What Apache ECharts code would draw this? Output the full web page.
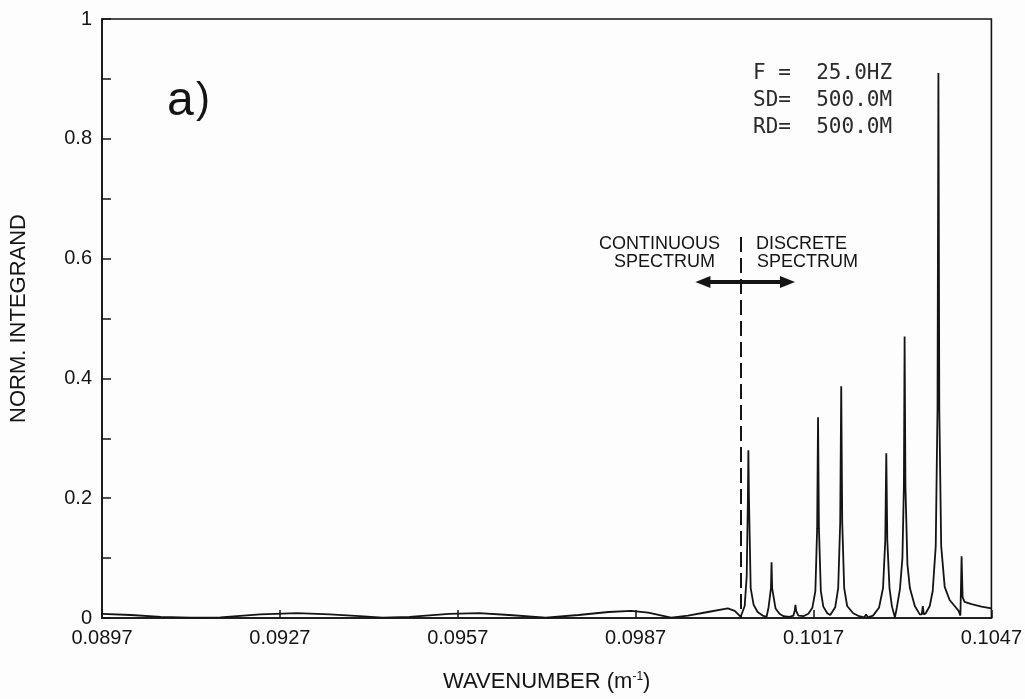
<!DOCTYPE html>
<html>
<head>
<meta charset="utf-8">
<title>Normalized integrand vs wavenumber</title>
<script src="https://cdn.jsdelivr.net/npm/echarts@6/dist/echarts.min.js"></script>
<style>
  html, body { margin: 0; padding: 0; background: #fdfdfd; }
  #c { width: 1025px; height: 699px; }
</style>
</head>
<body>
<div id="c"></div>
<script>
// Continuous-spectrum part of the integrand (wavenumber in 1/m, normalized value)
const continuousK = [
  0.089700, 0.090187, 0.090690, 0.091193, 0.091697, 0.092368, 0.092989, 0.093542,
  0.094046, 0.094432, 0.094885, 0.095556, 0.096059, 0.096563, 0.097183, 0.097737,
  0.098241, 0.098626, 0.098912, 0.099298, 0.099583, 0.099918, 0.100254, 0.100371,
  0.100472
];
const continuousVal = [
  0.007, 0.005, 0.002, 0.0005, 0.001, 0.006, 0.008, 0.006,
  0.003, 0.0005, 0.002, 0.007, 0.008, 0.005, 0.0005, 0.005,
  0.010, 0.012, 0.009, 0.0005, 0.004, 0.010, 0.016, 0.012,
  0.002
];

// Discrete-spectrum part: normal-mode peaks
const discreteK = [
  0.100489, 0.100539, 0.100573, 0.100593, 0.100601, 0.100611, 0.100640, 0.100690, 0.100757, 0.100841, 0.100908,
  0.100942, 0.100982, 0.100992, 0.101002, 0.101059, 0.101126, 0.101194, 0.101294,
  0.101361, 0.101383, 0.101395, 0.101407, 0.101445, 0.101529,
  0.101613, 0.101680, 0.101731, 0.101761, 0.101776, 0.101791, 0.101823, 0.101865, 0.101932, 0.101982,
  0.102066, 0.102116, 0.102150, 0.102167, 0.102184, 0.102217, 0.102267, 0.102368, 0.102469, 0.102553,
  0.102586, 0.102620,
  0.102704, 0.102804, 0.102872, 0.102910, 0.102927, 0.102944, 0.102981, 0.103023, 0.103073,
  0.103106, 0.103157, 0.103199, 0.103224, 0.103236, 0.103250, 0.103283, 0.103325, 0.103408, 0.103492, 0.103526,
  0.103543, 0.103559,
  0.103593, 0.103660, 0.103710, 0.103761, 0.103791, 0.103806, 0.103821, 0.103853, 0.103912, 0.103995, 0.104080, 0.104147, 0.104177,
  0.104197, 0.104214, 0.104247, 0.104365, 0.104533, 0.104700
];
const discreteVal = [
  0.004, 0.02, 0.07, 0.2, 0.28, 0.2, 0.05, 0.022, 0.01, 0.004, 0.002,
  0.018, 0.05, 0.093, 0.05, 0.016, 0.007, 0.003, 0.002,
  0.004, 0.012, 0.022, 0.012, 0.004, 0.003,
  0.007, 0.017, 0.045, 0.15, 0.335, 0.15, 0.045, 0.019, 0.008, 0.005,
  0.018, 0.05, 0.16, 0.387, 0.16, 0.05, 0.02, 0.008, 0.003, 0.001,
  0.006, 0.001,
  0.004, 0.017, 0.05, 0.13, 0.275, 0.13, 0.05, 0.019, 0.001,
  0.018, 0.048, 0.1, 0.22, 0.47, 0.22, 0.09, 0.05, 0.02, 0.006, 0.006,
  0.02, 0.006,
  0.008, 0.02, 0.045, 0.12, 0.35, 0.91, 0.35, 0.12, 0.052, 0.03, 0.02, 0.012, 0.004,
  0.103, 0.035, 0.027, 0.023, 0.019, 0.016
];

// Axis ticks
const xTicks = [0.0897, 0.0927, 0.0957, 0.0987, 0.1017, 0.1047];

// Boundary between continuous and discrete spectrum, and the double arrow
const dividerK = 0.100472;
const dividerTop = 0.636;
const arrowK = [0.099835, 0.101261];
const arrowLevel = 0.561;

const integrand = continuousK.map((k, i) => [k, continuousVal[i]])
  .concat(discreteK.map((k, i) => [k, discreteVal[i]]));

const INK = '#141414';
const SANS = '"Liberation Sans", Arial, sans-serif';

const chart = echarts.init(document.getElementById('c'));
chart.setOption({
  animation: false,
  backgroundColor: '#fdfdfd',
  grid: {
    left: 101, right: 30, top: 19, bottom: 81,
    show: true, borderColor: INK, borderWidth: 1.6, backgroundColor: 'transparent'
  },
  xAxis: {
    type: 'value',
    min: xTicks[0], max: xTicks[xTicks.length - 1],
    name: 'WAVENUMBER (m{sup|-1})',
    nameLocation: 'middle',
    nameGap: 53,
    nameTextStyle: {
      color: INK, fontFamily: SANS, fontSize: 22,
      rich: { sup: { fontSize: 12, fontFamily: SANS, color: INK, verticalAlign: 'top', padding: [0, 0, 8, 0] } }
    },
    axisLine: { lineStyle: { color: INK, width: 1.6 } },
    axisTick: { inside: true, length: 8, lineStyle: { color: INK, width: 1.5 }, customValues: xTicks },
    axisLabel: {
      customValues: xTicks, margin: 10, color: INK, fontFamily: SANS, fontSize: 20,
      formatter: v => v.toFixed(4)
    },
    splitLine: { show: false }
  },
  yAxis: {
    type: 'value',
    min: 0, max: 1, interval: 0.2,
    name: 'NORM. INTEGRAND',
    nameLocation: 'middle',
    nameGap: 72,
    nameRotate: 90,
    nameTextStyle: { color: INK, fontFamily: SANS, fontSize: 22 },
    axisLine: { show: true, lineStyle: { color: INK, width: 1.6 } },
    axisTick: { inside: true, length: 9, lineStyle: { color: INK, width: 1.5 } },
    minorTick: { show: true, splitNumber: 2, length: 9, lineStyle: { color: INK, width: 1.5 } },
    axisLabel: {
      margin: 10, color: INK, fontFamily: SANS, fontSize: 20,
      formatter: v => (v === 0 ? '0' : v === 1 ? '1' : v.toFixed(1))
    },
    splitLine: { show: false },
    minorSplitLine: { show: false }
  },
  series: [{
    type: 'line',
    data: integrand,
    showSymbol: false,
    smooth: false,
    lineStyle: { color: INK, width: 1.8 },
    silent: true,
    markLine: {
      silent: true,
      symbol: ['none', 'none'],
      label: { show: false },
      data: [
        [
          { coord: [dividerK, dividerTop], lineStyle: { color: INK, width: 2, type: [15, 6] } },
          { coord: [dividerK, 0] }
        ],
        [
          { coord: [arrowK[0], arrowLevel], symbol: 'triangle', symbolSize: [12, 15],
            lineStyle: { color: INK, width: 4, type: 'solid' } },
          { coord: [arrowK[1], arrowLevel], symbol: 'triangle', symbolSize: [12, 15] }
        ]
      ]
    }
  }],
  graphic: [
    { type: 'text', left: 167, top: 78, style: { text: 'a', font: '48px ' + SANS, fill: INK } },
    { type: 'text', left: 196, top: 79, style: { text: ')', font: '42px ' + SANS, fill: INK } },
    { type: 'text', left: 753, top: 63, style: { text: 'F =  25.0HZ', font: '21px "DejaVu Sans Mono", monospace', fill: '#2a2a2a' } },
    { type: 'text', left: 753, top: 90, style: { text: 'SD=  500.0M', font: '21px "DejaVu Sans Mono", monospace', fill: '#2a2a2a' } },
    { type: 'text', left: 753, top: 117, style: { text: 'RD=  500.0M', font: '21px "DejaVu Sans Mono", monospace', fill: '#2a2a2a' } },
    { type: 'text', left: 599, top: 235, style: { text: 'CONTINUOUS', font: '18px ' + SANS, fill: INK } },
    { type: 'text', left: 614, top: 253, style: { text: 'SPECTRUM', font: '18px ' + SANS, fill: INK } },
    { type: 'text', left: 756, top: 235, style: { text: 'DISCRETE', font: '18px ' + SANS, fill: INK } },
    { type: 'text', left: 757, top: 253, style: { text: 'SPECTRUM', font: '18px ' + SANS, fill: INK } }
  ]
});
</script>
</body>
</html>
